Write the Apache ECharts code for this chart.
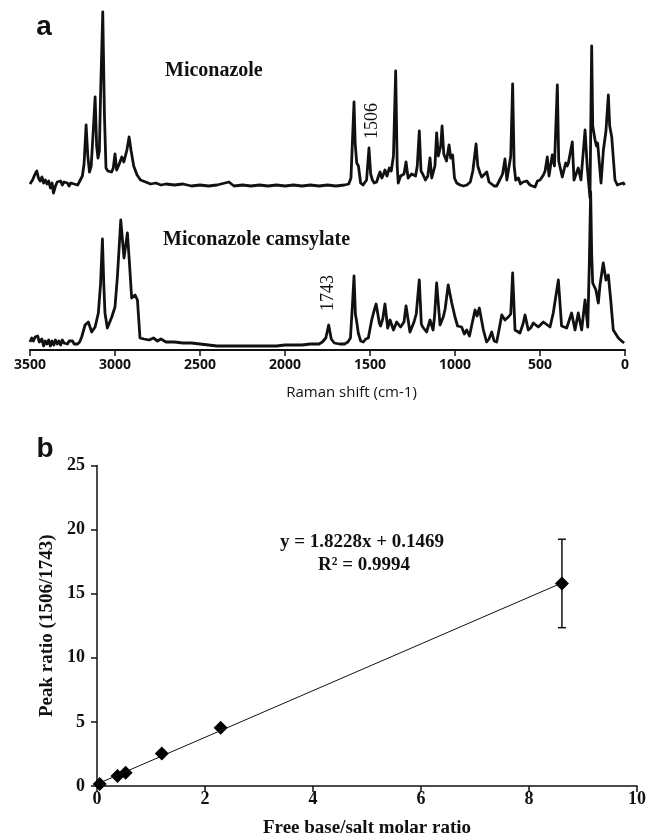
<!DOCTYPE html>
<html>
<head>
<meta charset="utf-8">
<script src="https://cdn.jsdelivr.net/npm/echarts@6/dist/echarts.min.js"></script>
<style>
  html, body { margin: 0; padding: 0; background: #fff; }
  #chart { width: 649px; height: 840px; }
</style>
</head>
<body>
<div id="chart"></div>
<script>
// Raman spectra, [wavenumber cm-1, intensity above own baseline (a.u.)]
var miconazole = [
  [3500,2],[3485,6],[3470,12],[3460,15],[3450,8],[3440,5],[3430,9],[3420,3],[3410,6],[3400,2],
  [3390,5],[3380,-2],[3370,3],[3362,-7],[3350,0],[3340,4],[3330,2],[3320,5],[3310,1],[3300,4],
  [3290,2],[3280,3],[3270,0],[3260,3],[3250,1],[3240,2],[3230,0],[3220,1],[3210,4],[3200,6],
  [3192,10],[3182,22],[3170,61],[3160,30],[3150,14],[3140,20],[3128,55],[3117,89],[3108,40],[3100,28],
  [3092,35],[3085,90],[3072,174],[3062,70],[3053,18],[3042,15],[3020,14],[3010,18],[3000,32],[2990,16],
  [2975,22],[2960,29],[2948,24],[2940,26],[2930,36],[2917,49],[2905,35],[2890,20],[2870,11],[2850,6],
  [2820,4],[2790,2],[2760,3],[2730,1],[2700,2],[2650,1],[2600,2],[2550,0],[2500,1],[2450,0],
  [2400,1],[2330,4],[2300,0],[2250,1],[2200,0],[2150,1],[2100,0],[2050,1],[2000,0],[1950,1],
  [1900,0],[1850,1],[1800,0],[1750,1],[1700,0],[1650,1],[1625,2],[1612,8],[1602,50],[1594,84],
  [1587,42],[1578,23],[1568,20],[1555,3],[1541,1],[1520,6],[1506,38],[1496,12],[1486,6],[1475,3],
  [1461,4],[1450,10],[1441,14],[1430,8],[1420,12],[1412,16],[1400,10],[1386,18],[1375,15],[1362,30],
  [1349,115],[1340,20],[1334,3],[1320,10],[1300,12],[1288,24],[1276,8],[1265,6],[1255,12],[1245,13],
  [1232,10],[1222,20],[1210,55],[1200,15],[1190,12],[1174,6],[1160,10],[1147,28],[1137,8],[1127,8],
  [1118,20],[1108,53],[1098,30],[1092,32],[1084,40],[1076,60],[1066,32],[1059,29],[1050,25],[1035,41],
  [1025,28],[1014,31],[1003,8],[990,3],[970,1],[950,0],[930,1],[910,4],[895,15],[876,42],
  [866,20],[853,13],[843,9],[835,8],[813,14],[800,4],[790,3],[770,0],[755,0],[740,5],
  [720,12],[706,27],[695,6],[686,5],[672,30],[661,102],[652,20],[643,6],[627,8],[615,2],
  [600,4],[578,5],[559,1],[545,0],[529,-1],[515,5],[500,6],[480,11],[470,15],[457,29],
  [447,10],[441,9],[428,31],[415,20],[398,101],[390,25],[382,19],[369,9],[349,23],[340,20],
  [333,23],[310,44],[300,6],[294,6],[275,18],[259,6],[235,56],[222,19],[212,20],[206,-12],
  [200,80],[196,140],[190,60],[176,46],[168,40],[161,43],[141,3],[127,36],[112,55],[98,91],
  [90,60],[78,49],[59,6],[45,1],[30,2],[20,0],[10,3],[2,1]
];

var camsylate = [
  [3500,2],[3490,6],[3480,3],[3470,7],[3455,8],[3445,2],[3430,5],[3420,-2],[3410,3],[3400,0],
  [3390,4],[3380,-2],[3370,3],[3360,-1],[3350,4],[3340,0],[3330,3],[3320,-1],[3310,4],[3300,1],
  [3290,3],[3280,0],[3270,3],[3260,1],[3250,3],[3240,0],[3230,2],[3220,0],[3208,2],[3196,7],
  [3176,19],[3157,22],[3137,12],[3117,17],[3098,31],[3085,60],[3074,105],[3066,60],[3059,31],[3045,16],
  [3019,27],[3000,37],[2986,67],[2966,124],[2947,86],[2927,111],[2915,81],[2902,46],[2882,49],[2868,44],
  [2853,6],[2830,5],[2800,4],[2774,6],[2750,3],[2730,5],[2700,2],[2650,2],[2600,1],[2550,1],
  [2500,0],[2450,-1],[2400,-2],[2350,-2],[2300,-2],[2250,-2],[2200,-2],[2150,-2],[2100,-2],[2050,-2],
  [2000,-1],[1950,-1],[1900,-1],[1850,0],[1800,0],[1780,2],[1760,6],[1743,19],[1728,5],[1710,1],
  [1680,0],[1650,0],[1630,2],[1615,6],[1603,40],[1594,68],[1586,30],[1578,22],[1569,11],[1555,3],
  [1539,2],[1525,5],[1510,6],[1490,24],[1478,32],[1464,40],[1445,21],[1438,18],[1425,25],[1412,40],
  [1396,16],[1382,24],[1362,14],[1343,22],[1320,17],[1300,22],[1288,38],[1265,12],[1241,22],[1228,30],
  [1210,64],[1198,20],[1190,17],[1167,12],[1147,24],[1129,14],[1120,28],[1108,61],[1088,19],[1069,27],
  [1058,35],[1040,59],[1019,41],[1000,27],[985,18],[961,17],[945,10],[931,14],[915,8],[900,20],
  [882,34],[870,28],[857,36],[833,14],[814,2],[800,5],[784,12],[770,3],[755,2],[740,15],
  [725,29],[706,24],[686,27],[672,30],[661,71],[647,14],[618,11],[600,20],[588,29],[569,14],
  [555,16],[539,21],[510,17],[480,22],[441,17],[422,31],[392,64],[373,18],[343,16],[314,31],
  [294,14],[275,31],[255,14],[235,44],[219,17],[210,80],[202,152],[196,90],[190,61],[171,54],
  [157,41],[147,59],[128,81],[112,64],[98,69],[84,44],[69,14],[39,6],[20,3],[5,1]
];
var TOP_OFFSET = 164, BOTTOM_OFFSET = 6;
var ramanTicks = [3500, 3000, 2500, 2000, 1500, 1000, 500, 0];

// panel b: free base / salt molar ratio vs peak ratio
var molarRatio = [0.05, 0.38, 0.53, 1.2, 2.29, 8.61];
var peakRatio  = [0.16, 0.78, 1.04, 2.54, 4.54, 15.8];
var peakErr    = [0, 0, 0, 0, 0, 3.45];
var trendLine  = [[0, 0.15], [8.61, 15.84]];

var serif = '"Liberation Serif", "Times New Roman", serif';
var sans = '"Liberation Sans", Arial, sans-serif';

var chart = echarts.init(document.getElementById('chart'), null, {renderer: 'canvas'});

var option = {
  animation: false,
  backgroundColor: '#fff',
  grid: [
    {left: 30, top: 5, width: 595, height: 345},
    {left: 97, top: 465.5, width: 542.5, height: 320.5}
  ],
  xAxis: [{
    gridIndex: 0, type: 'value', min: 0, max: 3500, interval: 500, inverse: true,
    axisLine: {lineStyle: {color: '#111', width: 2}},
    axisTick: {length: 6, lineStyle: {color: '#111', width: 1.5}},
    axisLabel: {margin: 8, color: '#111', fontFamily: '"Open Sans", sans-serif', fontWeight: 'bold', fontSize: 14,
      formatter: function (v) { return ramanTicks.indexOf(v) >= 0 ? String(v) : ''; }},
    splitLine: {show: false},
    name: 'Raman shift (cm-1)', nameLocation: 'middle', nameGap: 35,
    nameTextStyle: {color: '#111', fontFamily: '"Open Sans", sans-serif', fontSize: 15, padding: [0, 0, 0, 48]}
  }, {
    gridIndex: 1, type: 'value', min: 0, max: 10, interval: 2,
    axisLine: {lineStyle: {color: '#111', width: 1.5}},
    axisTick: {length: 6, lineStyle: {color: '#111', width: 1.5}},
    axisLabel: {margin: 4, color: '#111', fontFamily: serif, fontWeight: 'bold', fontSize: 18},
    splitLine: {show: false},
    name: 'Free base/salt molar ratio', nameLocation: 'middle', nameGap: 33,
    nameTextStyle: {color: '#111', fontFamily: serif, fontWeight: 'bold', fontSize: 19}
  }],
  yAxis: [{
    gridIndex: 0, type: 'value', min: 0, max: 345, show: false
  }, {
    gridIndex: 1, type: 'value', min: 0, max: 25, interval: 5,
    axisLine: {show: true, lineStyle: {color: '#111', width: 1.5}},
    axisTick: {show: true, length: 6, lineStyle: {color: '#111', width: 1.5}},
    axisLabel: {margin: 12, color: '#111', fontFamily: serif, fontWeight: 'bold', fontSize: 18},
    splitLine: {show: false},
    name: 'Peak ratio (1506/1743)', nameLocation: 'middle', nameGap: 40, nameRotate: 90,
    nameTextStyle: {color: '#111', fontFamily: serif, fontWeight: 'bold', fontSize: 19}
  }],
  series: [{
    name: 'Miconazole', type: 'line', xAxisIndex: 0, yAxisIndex: 0,
    showSymbol: false, silent: true,
    lineStyle: {color: '#111', width: 2.8, join: 'round'},
    data: miconazole.map(function (p) { return [p[0], p[1] + TOP_OFFSET]; })
  }, {
    name: 'Miconazole camsylate', type: 'line', xAxisIndex: 0, yAxisIndex: 0,
    showSymbol: false, silent: true,
    lineStyle: {color: '#111', width: 2.8, join: 'round'},
    data: camsylate.map(function (p) { return [p[0], p[1] + BOTTOM_OFFSET]; })
  }, {
    name: 'trend', type: 'line', xAxisIndex: 1, yAxisIndex: 1,
    showSymbol: false, silent: true,
    lineStyle: {color: '#111', width: 1},
    data: trendLine
  }, {
    name: 'error', type: 'custom', xAxisIndex: 1, yAxisIndex: 1,
    data: molarRatio.map(function (x, i) { return [x, peakRatio[i], peakErr[i]]; }),
    renderItem: function (params, api) {
      var x = api.value(0), y = api.value(1), e = api.value(2);
      if (!e) return null;
      var hi = api.coord([x, y + e]), lo = api.coord([x, y - e]);
      var w = 4, st = {stroke: '#111', lineWidth: 1.5};
      return {type: 'group', children: [
        {type: 'line', shape: {x1: hi[0], y1: hi[1], x2: lo[0], y2: lo[1]}, style: st},
        {type: 'line', shape: {x1: hi[0] - w, y1: hi[1], x2: hi[0] + w, y2: hi[1]}, style: st},
        {type: 'line', shape: {x1: lo[0] - w, y1: lo[1], x2: lo[0] + w, y2: lo[1]}, style: st}
      ]};
    }
  }, {
    name: 'ratio', type: 'scatter', xAxisIndex: 1, yAxisIndex: 1,
    symbol: 'diamond', symbolSize: [14, 14],
    itemStyle: {color: '#000', opacity: 1},
    data: molarRatio.map(function (x, i) { return [x, peakRatio[i]]; })
  }],
  graphic: [
    {type: 'text', x: 44, y: 27, style: {text: 'a', font: 'bold 28px ' + sans, fill: '#111', align: 'center', verticalAlign: 'middle'}},
    {type: 'text', x: 165, y: 71, style: {text: 'Miconazole', font: 'bold 20px ' + serif, fill: '#111', verticalAlign: 'middle'}},
    {type: 'text', x: 163, y: 240, style: {text: 'Miconazole camsylate', font: 'bold 20px ' + serif, fill: '#111', verticalAlign: 'middle'}},
    {type: 'text', x: 372, y: 121, rotation: Math.PI / 2, style: {text: '1506', font: '18px ' + serif, fill: '#111', align: 'center', verticalAlign: 'middle'}},
    {type: 'text', x: 328, y: 293, rotation: Math.PI / 2, style: {text: '1743', font: '18px ' + serif, fill: '#111', align: 'center', verticalAlign: 'middle'}},
    {type: 'text', x: 45, y: 449, style: {text: 'b', font: 'bold 28px ' + sans, fill: '#111', align: 'center', verticalAlign: 'middle'}},
    {type: 'text', x: 362, y: 542, style: {text: 'y = 1.8228x + 0.1469', font: 'bold 19px ' + serif, fill: '#111', align: 'center', verticalAlign: 'middle'}},
    {type: 'text', x: 364, y: 565, style: {text: 'R² = 0.9994', font: 'bold 19px ' + serif, fill: '#111', align: 'center', verticalAlign: 'middle'}}
  ]
};
chart.setOption(option);
</script>
</body>
</html>
